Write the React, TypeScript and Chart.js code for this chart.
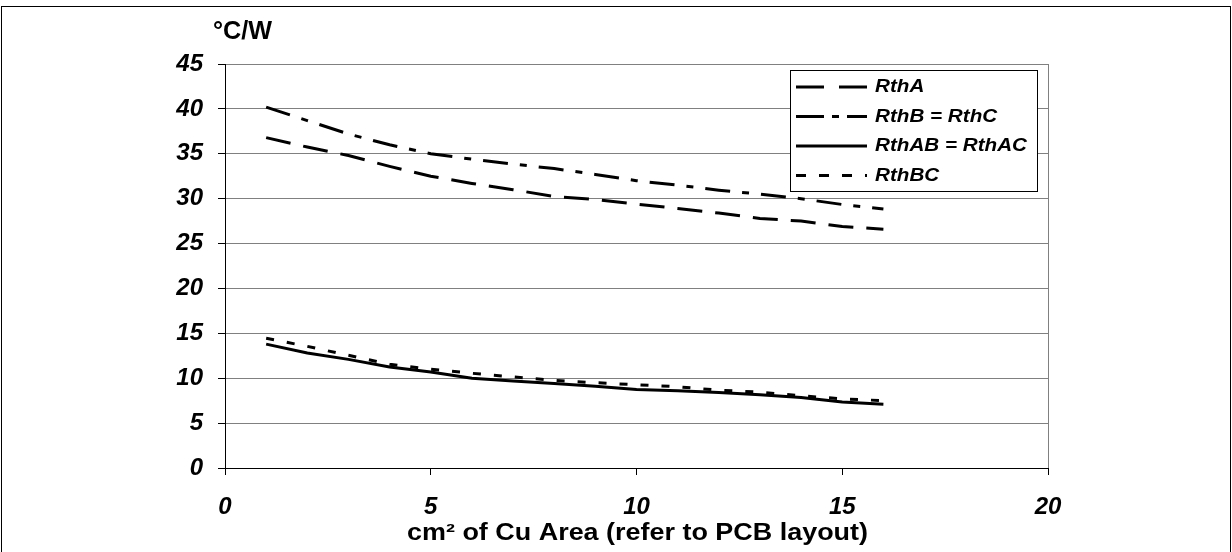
import React, { useEffect, useRef } from "react";
import { Chart, registerables } from "chart.js";

Chart.register(...registerables);

const xValues = [1, 2, 3, 4, 5, 6, 7, 8, 9, 10, 11, 12, 13, 14, 15, 16];
const rthA = [36.8, 35.75, 34.8, 33.6, 32.5, 31.7, 31.0, 30.25, 29.9, 29.4, 28.9, 28.4, 27.8, 27.5, 26.9, 26.6];
const rthB = [40.2, 38.7, 37.2, 36.0, 35.0, 34.4, 33.85, 33.35, 32.7, 32.0, 31.5, 30.95, 30.5, 30.0, 29.35, 28.85];
const rthAB = [13.8, 12.8, 12.1, 11.25, 10.7, 10.0, 9.7, 9.4, 9.1, 8.75, 8.6, 8.4, 8.15, 7.85, 7.35, 7.1];
const rthBC = [14.45, 13.55, 12.55, 11.55, 11.0, 10.55, 10.15, 9.75, 9.5, 9.27, 9.05, 8.67, 8.45, 8.05, 7.7, 7.5];

const seriesNames = ["RthA", "RthB = RthC", "RthAB = RthAC", "RthBC"];
const yTitle = "°C/W";
const xTitle = "cm² of Cu Area (refer to PCB layout)";

const FONT = "'Liberation Sans', Arial, sans-serif";

const dashes = [[25, 13], [25, 12, 7, 12], [], [8, 13]];
const legendDashes = [[28, 15], [28, 8, 7, 8], [], [10, 13]];

function stretchedText(ctx: any, text: string, x: number, y: number, sx: number, align: "left" | "center") {
  const w = ctx.measureText(text).width * sx;
  const left = align === "center" ? x - w / 2 : x;
  ctx.save();
  ctx.translate(left, y);
  ctx.scale(sx, 1);
  ctx.textAlign = "left";
  ctx.fillText(text, 0, 0);
  ctx.restore();
}

export default function App() {
  const ref = useRef<HTMLCanvasElement>(null);

  useEffect(() => {
    const canvas = ref.current;
    if (!canvas) return;
    const toPts = (arr: number[]) => arr.map((y, i) => ({ x: xValues[i], y }));
    const all = [rthA, rthB, rthAB, rthBC];

    const decor = {
      id: "decor",
      beforeDatasetsDraw(chart: any) {
        const { ctx, chartArea } = chart;
        ctx.save();
        ctx.strokeStyle = "#808080";
        ctx.lineWidth = 1;
        ctx.beginPath();
        ctx.moveTo(Math.round(chartArea.right) + 0.5, chartArea.top);
        ctx.lineTo(Math.round(chartArea.right) + 0.5, chartArea.bottom);
        ctx.stroke();
        ctx.restore();
      },
      afterDraw(chart: any) {
        const { ctx, chartArea } = chart;
        ctx.save();
        // outer frame
        ctx.strokeStyle = "#000";
        ctx.lineWidth = 1;
        ctx.strokeRect(1.5, 6.5, 1229, 600);
        // titles
        ctx.fillStyle = "#000";
        ctx.textBaseline = "middle";
        ctx.font = `bold 25px ${FONT}`;
        const yw = ctx.measureText(yTitle).width;
        stretchedText(ctx, yTitle, 213, 32, 59 / yw, "left");
        ctx.font = `bold 23px ${FONT}`;
        const xw = ctx.measureText(xTitle).width;
        stretchedText(ctx, xTitle, (chartArea.left + chartArea.right) / 2 + 1, 534, 461 / xw, "center");
        // legend
        const bx = 790.5, by = 70.5, bw = 247, bh = 121;
        ctx.fillStyle = "#fff";
        ctx.fillRect(bx, by, bw, bh);
        ctx.strokeStyle = "#000";
        ctx.strokeRect(bx, by, bw, bh);
        const rows = [87, 116.5, 146, 175.5];
        ctx.font = `italic bold 19px ${FONT}`;
        ctx.textBaseline = "middle";
        const lsx = 152 / ctx.measureText(seriesNames[2]).width;
        rows.forEach((ry, i) => {
          ctx.strokeStyle = "#000";
          ctx.lineWidth = 3;
          ctx.lineCap = "butt";
          ctx.setLineDash(legendDashes[i]);
          ctx.beginPath();
          ctx.moveTo(796, ry);
          ctx.lineTo(867, ry);
          ctx.stroke();
          ctx.setLineDash([]);
          ctx.fillStyle = "#000";
          stretchedText(ctx, seriesNames[i], 875, ry, lsx, "left");
        });
        ctx.restore();
      },
    };

    const chart = new Chart(canvas, {
      type: "line",
      data: {
        datasets: all.map((arr, i) => ({
          label: seriesNames[i],
          data: toPts(arr),
          borderColor: "#000",
          backgroundColor: "#000",
          borderWidth: 3,
          borderDash: dashes[i],
          borderCapStyle: "butt" as const,
          pointRadius: 0,
          tension: 0,
          fill: false,
        })),
      },
      options: {
        responsive: false,
        animation: false,
        events: [],
        layout: { padding: { left: 0, right: 184, top: 64, bottom: 0 } },
        plugins: {
          legend: { display: false },
          tooltip: { enabled: false },
          title: { display: false },
        },
        scales: {
          x: {
            type: "linear",
            min: 0,
            max: 20,
            ticks: {
              stepSize: 5,
              color: "#000",
              padding: 18,
              font: { family: FONT, size: 24, style: "italic", weight: "bold" },
            },
            grid: {
              drawOnChartArea: false,
              drawTicks: true,
              tickLength: 7,
              color: "#000",
            },
            border: { display: true, color: "#000", width: 1 },
            afterFit: (scale: any) => {
              scale.height = 84;
            },
          },
          y: {
            type: "linear",
            min: 0,
            max: 45,
            ticks: {
              stepSize: 5,
              color: "#000",
              padding: 15,
              font: { family: FONT, size: 24, style: "italic", weight: "bold" },
            },
            grid: {
              color: "#808080",
              tickColor: "#000",
              tickLength: 7,
              lineWidth: 1,
            },
            border: { display: true, color: "#000", width: 1 },
            afterFit: (scale: any) => {
              scale.width = 225;
            },
          },
        },
      },
      plugins: [decor],
    });
    return () => chart.destroy();
  }, []);

  return (
    <div style={{ position: "absolute", left: 0, top: 0, width: 1232, height: 552, overflow: "hidden", background: "#fff" }}>
      <canvas ref={ref} width={1232} height={552} style={{ width: 1232, height: 552, display: "block" }} />
    </div>
  );
}
